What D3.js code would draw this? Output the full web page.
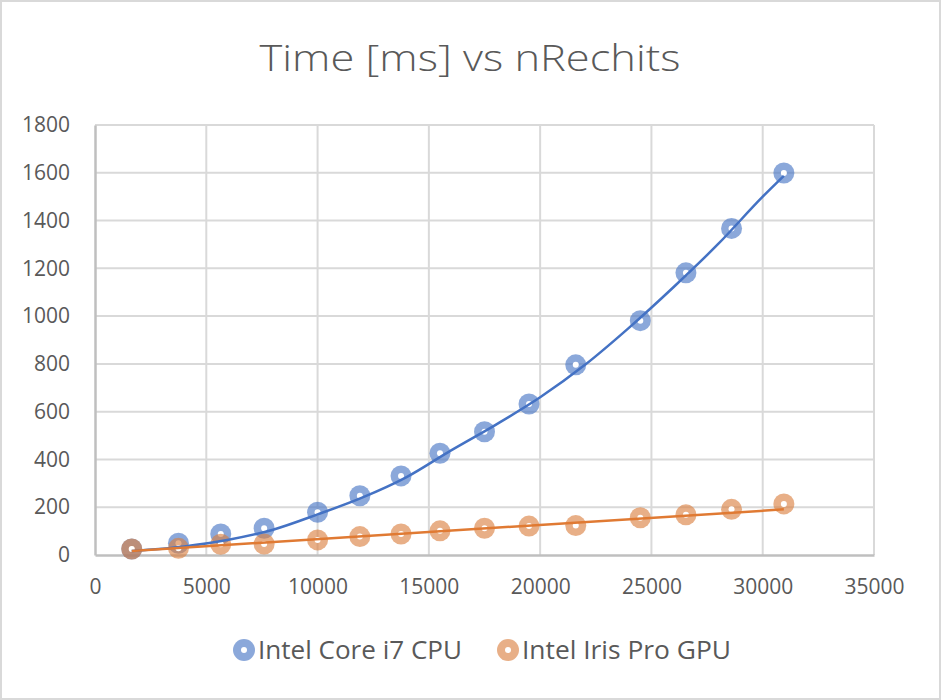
<!DOCTYPE html>
<html>
<head>
<meta charset="utf-8">
<script src="https://cdn.jsdelivr.net/npm/d3@7/dist/d3.min.js"></script>
<style>
  html, body { margin: 0; padding: 0; background: #fff; }
  svg { display: block; }
  text { font-family: "Open Sans", "Liberation Sans", sans-serif; fill: #595959; }
</style>
</head>
<body>
<svg id="chart" width="941" height="700"></svg>
<script>
// ---- data ----
const title = "Time [ms] vs nRechits";
const nRechits = [1650, 3750, 5650, 7600, 10000, 11900, 13750, 15500, 17500, 19500, 21600, 24500, 26550, 28600, 30950];
const cpuTime  = [25, 49, 88, 112, 179, 248, 331, 426, 516, 632, 796, 981, 1181, 1367, 1599];
const gpuTime  = [25, 28, 45, 46, 63, 77, 88, 101, 112, 121, 123, 156, 168, 191, 214];
// trend lines (as drawn in the reference)
const cpuTrendX = [1650, 4000, 6000, 8000, 10000, 12000, 14000, 16000, 18000, 20000, 22000, 24000, 26000, 28000, 30000, 30950];
const cpuTrendY = [17, 36, 64, 106, 170, 240, 326, 438, 545, 660, 795, 952, 1122, 1302, 1500, 1587];
const gpuTrendX = [1650, 30950];
const gpuTrendY = [17, 191];
const xTicks = [0, 5000, 10000, 15000, 20000, 25000, 30000, 35000];
const yTicks = [0, 200, 400, 600, 800, 1000, 1200, 1400, 1600, 1800];
const seriesNames = ["Intel Core i7 CPU", "Intel Iris Pro GPU"];
const lineColors = ["#4472C4", "#E07A33"];
const markerColors = ["#4472C4", "#DA7E3D"];

const svg = d3.select("#chart");
const W = 941, H = 700;

// outer frame
svg.append("rect").attr("x", 1).attr("y", 1).attr("width", W - 2).attr("height", H - 2)
  .attr("fill", "#fff").attr("stroke", "#d9d9d9").attr("stroke-width", 2);

const x = d3.scaleLinear().domain([0, 35000]).range([95, 874]);
const y = d3.scaleLinear().domain([0, 1800]).range([555, 125]);

// title
svg.append("text").attr("x", 470).attr("y", 71).attr("text-anchor", "middle")
  .attr("font-size", 36).attr("textLength", 421).attr("lengthAdjust", "spacingAndGlyphs")
  .style("font-weight", 300).text(title);

// gridlines
const grid = svg.append("g");
grid.selectAll("line.h").data(yTicks.filter(d => d > 0)).join("line")
  .attr("x1", x(0)).attr("x2", x(35000)).attr("y1", d => y(d)).attr("y2", d => y(d))
  .attr("stroke", "#d9d9d9").attr("stroke-width", 2);
grid.selectAll("line.v").data(xTicks.filter(d => d > 0)).join("line")
  .attr("x1", d => x(d)).attr("x2", d => x(d)).attr("y1", y(0)).attr("y2", y(1800))
  .attr("stroke", "#d9d9d9").attr("stroke-width", 2);

// axes
const xAxis = d3.axisBottom(x).tickValues(xTicks).tickSize(0).tickPadding(24).tickFormat(d3.format("d"));
const yAxis = d3.axisLeft(y).tickValues(yTicks).tickSize(0).tickPadding(25).tickFormat(d3.format("d"));
const gx = svg.append("g").attr("transform", `translate(0,${y(0)})`).call(xAxis);
const gy = svg.append("g").attr("transform", `translate(${x(0)},0)`).call(yAxis);
[gx, gy].forEach(g => {
  g.select(".domain").attr("stroke", "#bfbfbf").attr("stroke-width", 2.5);
  g.selectAll("text").attr("font-size", 21).attr("fill", "#505050")
    .style("font-family", '"Open Sans", "Liberation Sans", sans-serif');
});

// markers
const series = [cpuTime, gpuTime];
series.forEach((vals, i) => {
  const g = svg.append("g");
  const pts = nRechits.map((n, j) => [n, vals[j]]);
  g.selectAll("circle.m").data(pts).join("circle")
    .attr("cx", d => x(d[0])).attr("cy", d => y(d[1])).attr("r", 10.5)
    .attr("fill", markerColors[i]).attr("fill-opacity", 0.62);
  g.selectAll("circle.c").data(pts).join("circle")
    .attr("cx", d => x(d[0])).attr("cy", d => y(d[1])).attr("r", 3)
    .attr("fill", "#fff");
});

// trend lines
const line = d3.line().x(d => x(d[0])).y(d => y(d[1])).curve(d3.curveMonotoneX);
svg.append("path").datum(cpuTrendX.map((v, i) => [v, cpuTrendY[i]]))
  .attr("d", line).attr("fill", "none").attr("stroke", lineColors[0]).attr("stroke-width", 2.5);
svg.append("path").datum(gpuTrendX.map((v, i) => [v, gpuTrendY[i]]))
  .attr("d", line).attr("fill", "none").attr("stroke", lineColors[1]).attr("stroke-width", 2.5);

// legend
const legendX = [244, 508];
const legendW = [204, 209];
seriesNames.forEach((name, i) => {
  const g = svg.append("g").attr("transform", `translate(${legendX[i]},650)`);
  g.append("circle").attr("r", 11).attr("fill", markerColors[i]).attr("fill-opacity", 0.62);
  g.append("circle").attr("r", 3).attr("fill", "#fff");
  g.append("text").attr("x", 14).attr("y", 9).attr("font-size", 25).attr("fill", "#505050")
    .attr("textLength", legendW[i]).attr("lengthAdjust", "spacingAndGlyphs").text(name);
});
</script>
</body>
</html>
